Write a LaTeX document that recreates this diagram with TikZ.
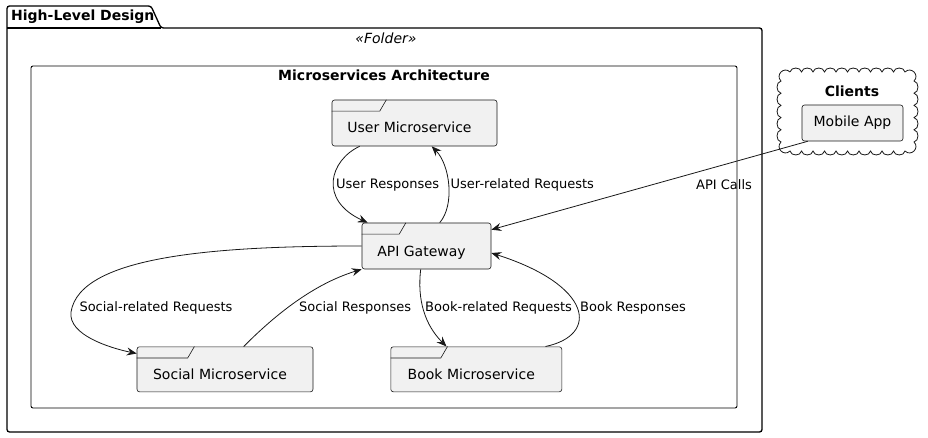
\documentclass[tikz,border=0pt]{standalone}
\usepackage{fontspec}
\setmainfont{DejaVu Sans}
\usetikzlibrary{arrows.meta,calc}
\definecolor{cstroke}{HTML}{181818}
\definecolor{cfill}{HTML}{F1F1F1}
\begin{document}
\begin{tikzpicture}[x=1pt,y=-1pt,
  fr/.style={draw=cstroke,fill=cfill,rounded corners=2.5pt,line width=0.6pt,inner sep=0pt,
    font=\fontsize{14}{16}\selectfont,text height=21pt,text depth=1pt,
    execute at end node={\hspace*{10pt}}},
  tabline/.style={draw=cstroke,line width=0.6pt},
  comp/.style={draw=cstroke,fill=cfill,rounded corners=2.5pt,line width=0.6pt,inner sep=0pt,
    font=\fontsize{14}{16}\selectfont},
  lbl/.style={anchor=west,inner sep=0pt,font=\fontsize{13}{15}\selectfont},
  conn/.style={draw=cstroke,line width=0.8pt,-{Stealth[length=10pt,width=8pt,inset=3.5pt]}}
]
\useasboundingbox (0,0) rectangle (928,438);
% outer folder
\draw[line width=1.3pt,rounded corners=2.5pt]
  (7,28) -- (7,6) -- (151,6) -- (161,28) -- (762,28) -- (762,432) -- (7,432) -- cycle;
\draw[line width=1.3pt] (7,28) -- (161,28);
\node[inner sep=0pt,anchor=west,font=\bfseries\fontsize{14}{16}\selectfont] (hld) at (11,17) {High-Level Design};
\node[inner sep=0pt,font=\itshape\fontsize{14}{16}\selectfont] (fold) at (386,38) {«Folder»};
% architecture rectangle
\draw[line width=0.9pt,rounded corners=2pt] (31,66) rectangle (737,408);
\node[inner sep=0pt,font=\bfseries\fontsize{14}{16}\selectfont] (arch) at (384,75) {Microservices Architecture};
% frames
\node[fr,minimum width=165pt,minimum height=46pt] (u) at (414.5,123) {User Microservice};
\node[fr,minimum width=129pt,minimum height=46pt] (g) at (426.5,246) {API Gateway};
\node[fr,minimum width=176pt,minimum height=45pt] (s) at (225,369.3) {Social Microservice};
\node[fr,minimum width=171pt,minimum height=45pt] (b) at (476.3,369.3) {Book Microservice};
\draw[tabline] ($(u.north west)+(0,11.5)$) -- ++(48,0) -- ++(6.7,-11.5);
\draw[tabline] ($(g.north west)+(0,11.5)$) -- ++(37.5,0) -- ++(6.7,-11.5);
\draw[tabline] ($(s.north west)+(0,11.5)$) -- ++(51,0) -- ++(6.7,-11.5);
\draw[tabline] ($(b.north west)+(0,11.5)$) -- ++(50.3,0) -- ++(6.7,-11.5);
% cloud
\draw[draw=cstroke,line width=0.8pt]
  (790,72) foreach \i in {1,...,10} { .. controls +(1,-5.3) and +(-1,-5.3) .. ++(11.5,0) }
  .. controls (911,66) and (920,75) .. (914,81)
  foreach \i in {1,...,5} { .. controls +(5.3,1) and +(5.3,-1) .. ++(0,12.2) }
  .. controls (920,148) and (911,157) .. (905,151)
  foreach \i in {1,...,10} { .. controls +(-1,5.3) and +(1,5.3) .. ++(-11.5,0) }
  .. controls (784,157) and (775,148) .. (781,142)
  foreach \i in {1,...,5} { .. controls +(-5.3,-1) and +(-5.3,1) .. ++(0,-12.2) }
  .. controls (775,75) and (784,66) .. (790,72);
\node[inner sep=0pt,font=\bfseries\fontsize{14}{16}\selectfont] (cl) at (852,91) {Clients};
\node[comp,minimum width=101pt,minimum height=36pt] (m) at (852.5,123) {Mobile App};
% connectors
\draw[conn] ($(u.south west)+(28,0)$) .. controls (330,160) and (318,200) .. ($(g.north west)+(6,0)$);
\draw[conn] ($(g.north west)+(78,0)$) .. controls (455,205) and (450,165) .. ($(u.south west)+(100,0)$);
\draw[conn] (g.west) .. controls (220,246) and (80,255) .. (71,312) .. controls (68,335) and (110,348) .. ($(s.north west)+(0,7)$);
\draw[conn] ($(s.north west)+(107,0)$) .. controls (270,320) and (310,285) .. (g.south west);
\draw[conn] ($(g.south west)+(59,0)$) .. controls (417,300) and (425,325) .. ($(b.north west)+(56,0)$);
\draw[conn] ($(b.north west)+(155,0)$) .. controls (600,335) and (592,285) .. ($(g.east)+(0,7)$);
\draw[conn] ($(m.south west)+(6,0)$) -- ($(g.north east)+(0,7)$);
% labels
\node[lbl] (l1) at (336,185) {User Responses};
\node[lbl] (l2) at (450.5,185) {User-related Requests};
\node[lbl] (l3) at (79.3,307.7) {Social-related Requests};
\node[lbl] (l4) at (299,307.7) {Social Responses};
\node[lbl] (l5) at (425,307.7) {Book-related Requests};
\node[lbl] (l6) at (580,307.7) {Book Responses};
\node[lbl] (l7) at (696,185) {API Calls};
\end{tikzpicture}
\end{document}
